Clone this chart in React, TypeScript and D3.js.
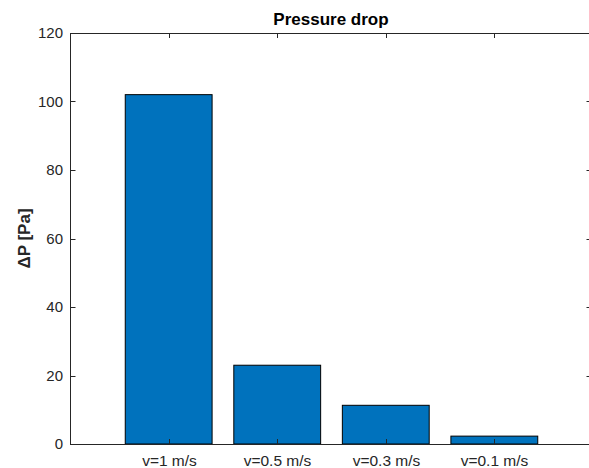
import React from "react";
import * as d3 from "d3";

const categories = ["v=1 m/s", "v=0.5 m/s", "v=0.3 m/s", "v=0.1 m/s"];
const values = [102, 23, 11.3, 2.3];
const yTicks = [0, 20, 40, 60, 80, 100, 120];
const title = "Pressure drop";
const yLabel = "\u0394P [Pa]";

export default function App() {
  const W = 589, H = 468;
  const left = 70.5, right = 591.5, top = 33, bottom = 444;
  const x = d3.scaleBand<string>().domain(categories).range([114.4, 548.6]).paddingInner(0.2).paddingOuter(0.1);
  const y = d3.scaleLinear().domain([0, 120]).range([bottom, top]);
  const axisColor = "#262626";
  const font = "'Liberation Sans', Arial, sans-serif";
  const tl = 5;
  return (
    <div style={{ position: "absolute", left: 0, top: 0, width: W, height: H, background: "#fff", overflow: "hidden" }}>
      <svg width={W} height={H} style={{ display: "block" }} fontFamily={font}>
        <rect x={0} y={0} width={W} height={H} fill="#fff" />
        {categories.map((c, i) => (
          <rect key={c} x={x(c)!} y={y(values[i])} width={x.bandwidth()} height={y(0) - y(values[i])}
            fill="#0072BD" stroke="#000" strokeWidth={1} />
        ))}
        <rect x={left} y={top + 0.5} width={right - left} height={bottom - top} fill="none" stroke={axisColor} strokeWidth={1} />
        {yTicks.map(t => (
          <g key={t}>
            <line x1={left} x2={left + tl} y1={Math.round(y(t)) + 0.5} y2={Math.round(y(t)) + 0.5} stroke={axisColor} />
            <line x1={right} x2={right - tl} y1={Math.round(y(t)) + 0.5} y2={Math.round(y(t)) + 0.5} stroke={axisColor} />
            <text x={left - 7.5} y={y(t)} dy="0.36em" textAnchor="end" fontSize={15} fill={axisColor}>{t}</text>
          </g>
        ))}
        {categories.map(c => {
          const cx = Math.round(x(c)! + x.bandwidth() / 2) + 0.5;
          return (
            <g key={c}>
              <line x1={cx} x2={cx} y1={bottom} y2={bottom - tl} stroke={axisColor} />
              <line x1={cx} x2={cx} y1={top} y2={top + tl} stroke={axisColor} />
              <text x={cx} y={bottom + 22} textAnchor="middle" fontSize={15.5} fill={axisColor}>{c}</text>
            </g>
          );
        })}
        <text x={(left + right) / 2} y={25} textAnchor="middle" fontSize={17} fontWeight="bold" fill="#000">{title}</text>
        <text transform={`translate(30,${(top + bottom) / 2}) rotate(-90)`} textAnchor="middle" fontSize={17} fontWeight="bold" fill={axisColor}>{yLabel}</text>
      </svg>
    </div>
  );
}
